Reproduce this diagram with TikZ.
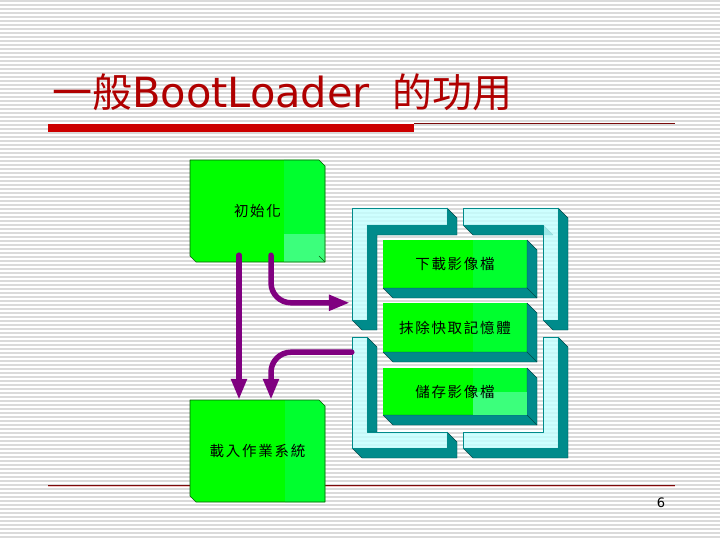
\documentclass[tikz,border=0pt]{standalone}
\usepackage{fontspec}
\setmainfont{DejaVu Sans}
\newfontfamily\cjk{Noto Sans CJK TC}
\newfontfamily\boxcjk[LetterSpace=12]{Noto Sans CJK TC}
\usetikzlibrary{arrows.meta,calc}
\definecolor{ink}{HTML}{000000}
\definecolor{stripe}{HTML}{DADADA}
\definecolor{titlered}{HTML}{B00000}
\definecolor{barred}{HTML}{CC0000}
\definecolor{rule}{HTML}{7A0A0A}
\definecolor{rulepink}{HTML}{F2C4C4}
\definecolor{lime}{HTML}{00FF00}
\definecolor{limelight}{HTML}{00FF2E}
\definecolor{limehatch}{HTML}{3CFF7C}
\definecolor{limeedge}{HTML}{0A5A0A}
\definecolor{frame}{HTML}{C2FFFF}
\definecolor{teal3d}{HTML}{008B8B}
\definecolor{tealedge}{HTML}{004848}
\definecolor{plum}{HTML}{800080}

\begin{document}
\begin{tikzpicture}[
  x=1pt,y=-1pt,
  line cap=round,line join=round,
  label/.style={font=\boxcjk\fontsize{14.5}{16}\selectfont, text=ink, inner sep=0pt},
  cyanface/.style={fill=frame, fill opacity=.8, draw=teal3d, line width=.5pt},
  side/.style={fill=teal3d, draw=tealedge, line width=.4pt},
  panel/.style={draw=limeedge, line width=.6pt},
  flow/.style={draw=plum, line width=5.5pt, rounded corners=20pt, -{Triangle[length=21pt,width=15pt]}}
]
\useasboundingbox (0,0) rectangle (720,540);

% striped slide background
\fill[white] (0,0) rectangle (720,540);
\foreach \y in {1,5,...,539}{
  \draw[stripe,line width=1.4pt,line cap=butt] (0,\y) -- (720,\y);
}

% title and rules
\node[anchor=base west,inner sep=0pt,text=titlered,font=\fontsize{41.5}{44}\selectfont] (title) at (52,108)
  {{\cjk\fontsize{40}{44}\selectfont 一般}BootLoader\hspace{23pt}{\cjk\fontsize{40}{44}\selectfont 的功用}};
\fill[barred] (48,124) rectangle (414,132);
\draw[rule,line width=.8pt,line cap=butt] (414,123.5) -- (675,123.5);
\draw[rulepink,line width=.8pt,line cap=butt] (48,486.5) -- (675,486.5);
\draw[rule,line width=.8pt,line cap=butt] (48,485.5) -- (675,485.5);

% loop frame: four bevelled L pieces
\filldraw[side] (447,208) -- (457,218) -- (457,235) -- (377,235) -- (377,330) -- (362,330)
  -- (352,320) -- (367,320) -- (367,225) -- (447,225) -- cycle;
\filldraw[cyanface] (352,208) -- (447,208) -- (447,225) -- (367,225) -- (367,320) -- (352,320) -- cycle;

\filldraw[side] (558,208) -- (568,218) -- (568,330) -- (553,330) -- (543,320) -- (558,320) -- cycle;
\filldraw[side] (463,225) -- (543,225) -- (553,235) -- (473,235) -- cycle;
\filldraw[cyanface] (463,208) -- (558,208) -- (558,320) -- (543,320) -- (543,225) -- (463,225) -- cycle;

\filldraw[side] (367,337) -- (377,347) -- (377,432) -- (367,432) -- cycle;
\filldraw[side] (447,432) -- (457,442) -- (457,458) -- (362,458) -- (352,448) -- (447,448) -- cycle;
\filldraw[cyanface] (352,337) -- (367,337) -- (367,432) -- (447,432) -- (447,448) -- (352,448) -- cycle;

\filldraw[side] (558,337) -- (568,347) -- (568,458) -- (473,458) -- (463,448) -- (558,448) -- cycle;
\filldraw[cyanface] (543,337) -- (558,337) -- (558,448) -- (463,448) -- (463,432) -- (543,432) -- cycle;

% download / erase / save stages
\foreach \a/\b in {240/288,303/352,368/415}{
  \fill[lime] (383,\a) rectangle (527,\b);
  \fill[limelight] (473,\a) rectangle (527,\b);
  \filldraw[side] (527,\a) -- (537,\a+10) -- (537,\b+10) -- (393,\b+10) -- (383,\b) -- (527,\b) -- cycle;
  \draw[tealedge,line width=.4pt] (527,\b) -- (537,\b+10);
}
\fill[limehatch] (473,392) rectangle (527,415);

% init panel
\fill[lime] (190,160) -- (319,160) -- (325,166) -- (325,262) -- (196,262) -- (190,256) -- cycle;
\fill[limelight] (284,160) -- (319,160) -- (325,166) -- (325,262) -- (284,262) -- cycle;
\fill[limehatch] (284,234) rectangle (325,262);
\draw[panel] (190,160) -- (319,160) -- (325,166) -- (325,262) -- (196,262) -- (190,256) -- cycle;
\draw[panel] (319,256) -- (325,262);

% load panel
\fill[lime] (190,400) -- (319,400) -- (325,406) -- (325,502) -- (196,502) -- (190,496) -- cycle;
\fill[limelight] (285,400) -- (319,400) -- (325,406) -- (325,502) -- (285,502) -- cycle;
\draw[panel] (190,400) -- (319,400) -- (325,406) -- (325,502) -- (196,502) -- (190,496) -- cycle;

% stage labels
\node[label,minimum width=135pt,minimum height=102pt] (init) at (257.5,211) {初始化};
\node[label,minimum width=135pt,minimum height=102pt] (load) at (257.5,451) {載入作業系統};
\node[label,minimum width=144pt,minimum height=48pt] (dl) at (455,264) {下載影像檔};
\node[label,minimum width=144pt,minimum height=49pt] (erase) at (455,327.5) {抹除快取記憶體};
\node[label,minimum width=144pt,minimum height=47pt] (save) at (455,391.5) {儲存影像檔};

% loop entry and exit
\coordinate (loopin) at ($(erase.north west)+(-33,0)$);
\coordinate (loopout) at ($(erase.south west)+(-31,0)$);
\coordinate (dropL) at ($(init.south)+(-18.5,-7)$);
\coordinate (dropR) at ($(init.south)+(13.5,-7)$);

% control flow
\draw[flow] (dropL) -- (dropL |- load.north);
\draw[flow] (dropR) |- (loopin);
\draw[flow] (loopout) -| (dropR |- load.north);

% page number
\node[font=\fontsize{13}{15}\selectfont,text=ink] (pagenum) at (661,503) {6};

\end{tikzpicture}
\end{document}
